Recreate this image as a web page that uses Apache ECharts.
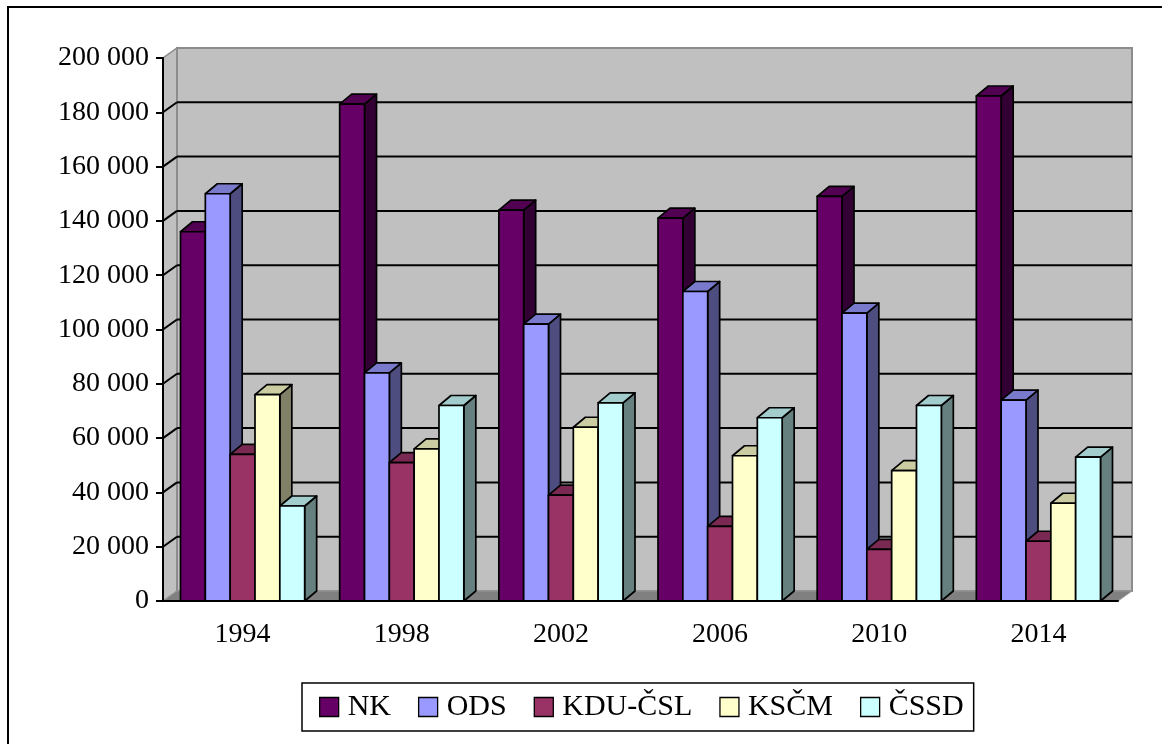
<!DOCTYPE html>
<html>
<head>
<meta charset="utf-8">
<title>Chart</title>
<script src="https://cdn.jsdelivr.net/npm/echarts@6/dist/echarts.min.js"></script>
<style>
  html, body { margin: 0; padding: 0; background: #fff; }
  #chart { width: 1162px; height: 744px; }
</style>
</head>
<body>
<div id="chart"></div>
<script>
// data
const years = ['1994', '1998', '2002', '2006', '2010', '2014'];
const nk = [136000, 183000, 144000, 141000, 149000, 186000];
const ods = [150000, 84000, 102000, 114000, 106000, 74000];
const kdu = [54000, 51000, 39000, 27500, 19000, 22000];
const kscm = [76000, 56000, 64000, 53500, 48000, 36000];
const cssd = [35000, 72000, 73000, 67500, 72000, 53000];
const yTicks = [0, 20000, 40000, 60000, 80000, 100000, 120000, 140000, 160000, 180000, 200000];

const FONT = '"Liberation Serif", "Times New Roman", serif';
// depth of the 3d box (walls) and of the bars
const WALL_DX = 14, WALL_DY = -10;
const BAR_DX = 12, BAR_DY = -10;
const GROUP = 0.78;

function shade(hex, f) {
  const n = parseInt(hex.slice(1), 16);
  const r = Math.round(((n >> 16) & 255) * f);
  const g = Math.round(((n >> 8) & 255) * f);
  const b = Math.round((n & 255) * f);
  return 'rgb(' + r + ',' + g + ',' + b + ')';
}

function fmt(v) {
  return String(v).replace(/\B(?=(\d{3})+(?!\d))/g, ' ');
}

function wallsSeries() {
  return {
    type: 'custom',
    name: 'walls',
    z: 1,
    silent: true,
    data: yTicks.map(v => [0, v]),
    renderItem: (params, api) => {
      const cs = params.coordSys;
      const left = cs.x, right = cs.x + cs.width;
      const top = cs.y, bottom = cs.y + cs.height;
      const y = api.coord([0, api.value(1)])[1];
      const children = [];
      if (params.dataIndex === 0) {
        children.push({
          type: 'polygon',
          shape: { points: [[left, bottom], [left, top], [left + WALL_DX, top + WALL_DY], [left + WALL_DX, bottom + WALL_DY]] },
          style: { fill: '#c0c0c0', stroke: '#8c8c8c', lineWidth: 1.5 }
        });
        children.push({
          type: 'rect',
          shape: { x: left + WALL_DX, y: top + WALL_DY, width: cs.width, height: cs.height },
          style: { fill: '#c0c0c0', stroke: '#8c8c8c', lineWidth: 2 }
        });
        children.push({
          type: 'polygon',
          shape: { points: [[left, bottom], [right, bottom], [right + WALL_DX, bottom + WALL_DY], [left + WALL_DX, bottom + WALL_DY]] },
          style: { fill: '#808080', stroke: '#9a9a9a', lineWidth: 1 }
        });
      }
      const v = api.value(1);
      if (v > 0 && v < 200000) {
        children.push({
          type: 'line',
          shape: { x1: left, y1: y, x2: left + WALL_DX, y2: y + WALL_DY },
          style: { stroke: '#000', lineWidth: 2 }
        });
        children.push({
          type: 'line',
          shape: { x1: left + WALL_DX, y1: y + WALL_DY, x2: right + WALL_DX, y2: y + WALL_DY },
          style: { stroke: '#000', lineWidth: 2 }
        });
      }
      return { type: 'group', children: children };
    }
  };
}

function barSeries(name, values, color, idx) {
  return {
    type: 'custom',
    name: name,
    z: 3,
    itemStyle: { color: color },
    data: values.map((v, i) => [i, v]),
    renderItem: (params, api) => {
      const base = api.coord([api.value(0), 0]);
      const top = api.coord([api.value(0), api.value(1)]);
      const catW = api.size([1, 0])[0];
      const bw = catW * GROUP / 5;
      const x0 = base[0] - 2.5 * bw + idx * bw;
      const x1 = x0 + bw;
      const yb = base[1], yt = top[1];
      const line = { stroke: '#000', lineWidth: 1.7, lineJoin: 'round' };
      return {
        type: 'group',
        children: [
          {
            type: 'polygon', z2: idx * 10 + 1,
            shape: { points: [[x1, yt], [x1 + BAR_DX, yt + BAR_DY], [x1 + BAR_DX, yb + BAR_DY], [x1, yb]] },
            style: Object.assign({ fill: shade(color, 0.5) }, line)
          },
          {
            type: 'polygon', z2: idx * 10 + 2,
            shape: { points: [[x0, yt], [x1, yt], [x1 + BAR_DX, yt + BAR_DY], [x0 + BAR_DX, yt + BAR_DY]] },
            style: Object.assign({ fill: shade(color, 0.8) }, line)
          },
          {
            type: 'rect', z2: idx * 10 + 3,
            shape: { x: x0, y: yt, width: bw, height: yb - yt },
            style: Object.assign({ fill: color }, line)
          }
        ]
      };
    }
  };
}

const chart = echarts.init(document.getElementById('chart'));

const option = {
  animation: false,
  backgroundColor: '#fff',
  graphic: [{
    type: 'rect',
    shape: { x: 8, y: 7, width: 1200, height: 800 },
    style: { fill: 'none', stroke: '#000', lineWidth: 2 },
    silent: true
  }],
  grid: { left: 163, right: 44, top: 58, bottom: 143 },
  legend: {
    left: 302,
    top: 683,
    padding: [9, 10, 9, 17],
    itemWidth: 19,
    itemHeight: 19,
    itemGap: 27,
    icon: 'rect',
    selectedMode: false,
    borderColor: '#000',
    borderWidth: 1.5,
    itemStyle: { borderColor: '#000', borderWidth: 1.3 },
    textStyle: { fontFamily: FONT, fontSize: 30, color: '#000', padding: [0, 0, 0, 4] },
    data: ['NK', 'ODS', 'KDU-ČSL', 'KSČM', 'ČSSD']
  },
  xAxis: {
    type: 'category',
    data: years,
    z: 10,
    axisLine: { lineStyle: { color: '#000', width: 2 } },
    axisTick: { length: 7, lineStyle: { color: '#000', width: 2 } },
    axisLabel: { margin: 20, fontFamily: FONT, fontSize: 28, color: '#000' },
    splitLine: { show: false }
  },
  yAxis: {
    type: 'value',
    min: 0,
    max: 200000,
    interval: 20000,
    z: 10,
    axisLine: { show: true, lineStyle: { color: '#000', width: 2 } },
    axisTick: { show: true, length: 7, lineStyle: { color: '#000', width: 2 } },
    axisLabel: { margin: 14, fontFamily: FONT, fontSize: 28, color: '#000', formatter: fmt },
    splitLine: { show: false }
  },
  series: [
    wallsSeries(),
    barSeries('NK', nk, '#660066', 0),
    barSeries('ODS', ods, '#9999ff', 1),
    barSeries('KDU-ČSL', kdu, '#993366', 2),
    barSeries('KSČM', kscm, '#ffffcc', 3),
    barSeries('ČSSD', cssd, '#ccffff', 4)
  ]
};

chart.setOption(option);
</script>
</body>
</html>
